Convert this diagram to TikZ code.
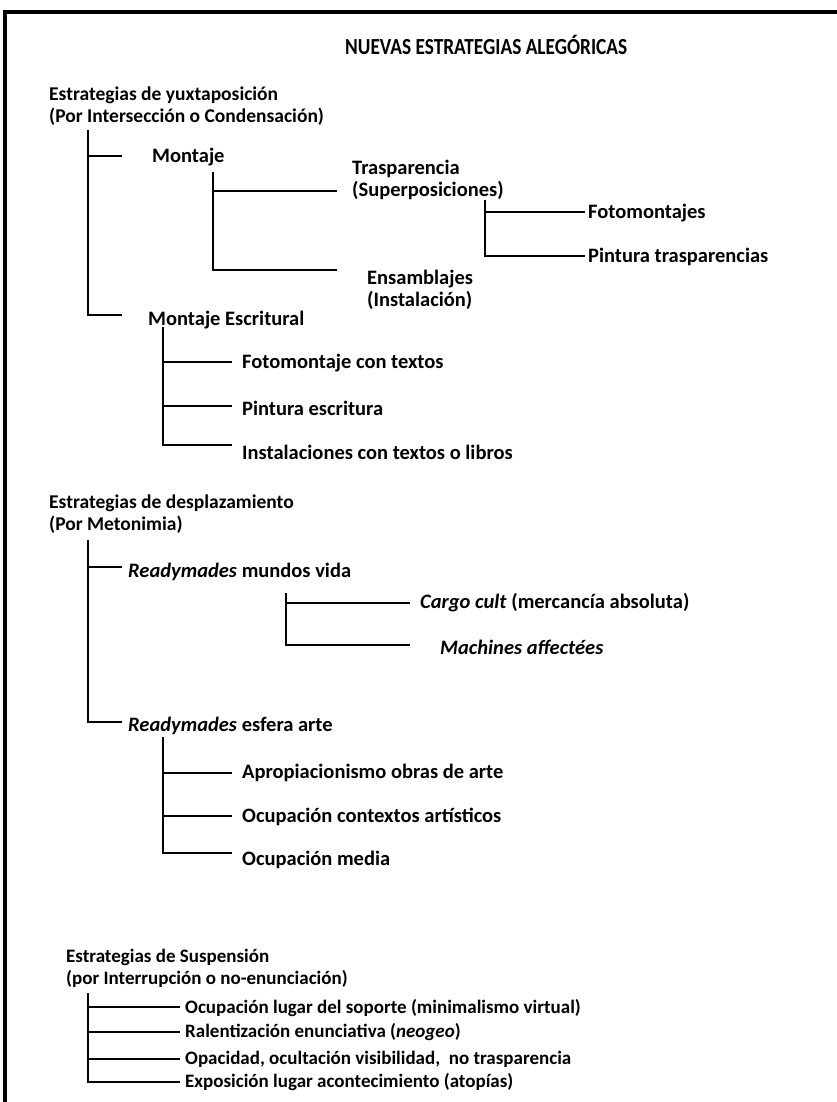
\documentclass[tikz,border=0pt]{standalone}
\usepackage{fontspec}
\setmainfont{Carlito}
\begin{document}
\begin{tikzpicture}[x=1pt,y=-1pt,
  lbl/.style={anchor=west,inner sep=0pt,font=\fontsize{20.5}{22}\selectfont\bfseries,align=left},
  hdr/.style={anchor=west,inner sep=0pt,font=\fontsize{19.5}{22}\selectfont\bfseries,align=left},
  low/.style={anchor=west,inner sep=0pt,font=\fontsize{19}{22}\selectfont\bfseries,align=left},
  ttl/.style={anchor=west,inner sep=0pt,font=\fontsize{23}{26}\selectfont\bfseries},
  tree/.style={line width=1.8pt},
  frame/.style={line width=4pt}]
\useasboundingbox (0,0) rectangle (836,1102);
% frame
\coordinate (fb) at (5,1104);
\coordinate (fc) at (5,12);
\coordinate (fr) at (838,12);
\draw[frame] (fb) -- (fc) -- (fr);
% title
\node[ttl] (title) at (345,45) {\scalebox{0.84}[1]{NUEVAS ESTRATEGIAS ALEG\'ORICAS}};
% group 1
\node[hdr] (g1) at (49,106.5) {Estrategias de yuxtaposici\'on\\(Por Intersecci\'on o Condensaci\'on)};
\node[lbl] (mont) at (152,157) {Montaje};
\node[lbl] (trasp) at (352,179.5) {Trasparencia\\(Superposiciones)};
\node[lbl] (foto) at (588,213) {Fotomontajes};
\node[lbl] (pintt) at (588,257) {Pintura trasparencias};
\node[lbl] (ens) at (367,290) {Ensamblajes\\(Instalaci\'on)};
\node[lbl] (mesc) at (148,320) {Montaje Escritural};
\node[lbl] (fct) at (242,363) {Fotomontaje con textos};
\node[lbl] (pesc) at (242,408) {Pintura escritura};
\node[lbl] (inst) at (242,452) {Instalaciones con textos o libros};
% group 2
\node[hdr] (g2) at (49,514) {Estrategias de desplazamiento\\(Por Metonimia)};
\node[lbl] (rmv) at (128,572) {\textit{Readymades} mundos vida};
\node[lbl] (cargo) at (420,603) {\textit{Cargo cult} (mercanc\'ia absoluta)};
\node[lbl] (mach) at (440,647) {\textit{Machines affect\'ees}};
\node[lbl] (rea) at (128,726) {\textit{Readymades} esfera arte};
\node[lbl] (apro) at (242,773) {Apropiacionismo obras de arte};
\node[lbl] (ocont) at (242,817) {Ocupaci\'on contextos art\'isticos};
\node[lbl] (omed) at (242,860) {Ocupaci\'on media};
% group 3
\node[low] (g3) at (66,968) {Estrategias de Suspensi\'on\\(por Interrupci\'on o no-enunciaci\'on)};
\node[low] (s1) at (185,1008) {Ocupaci\'on lugar del soporte (minimalismo virtual)};
\node[low] (s2) at (185,1032) {Ralentizaci\'on enunciativa (\textit{neogeo})};
\node[low] (s3) at (185,1059) {Opacidad, ocultaci\'on visibilidad,\ \ no trasparencia};
\node[low] (s4) at (185,1082) {Exposici\'on lugar acontecimiento (atop\'ias)};
% tree coordinates
\coordinate (t1) at (88,130);
\coordinate (b1a) at (122,156);
\coordinate (b1b) at (122,315);
\coordinate (t2) at (213,172);
\coordinate (b2a) at (337,191);
\coordinate (b2b) at (337,270);
\coordinate (t3) at (485,200);
\coordinate (b3a) at (585,212);
\coordinate (b3b) at (585,256);
\coordinate (t4) at (163,327);
\coordinate (b4a) at (232,362);
\coordinate (b4b) at (232,406);
\coordinate (b4c) at (232,445);
\coordinate (t5) at (88,540);
\coordinate (b5a) at (122,567);
\coordinate (b5b) at (122,722);
\coordinate (t6) at (286,593);
\coordinate (b6a) at (410,603);
\coordinate (b6b) at (410,645);
\coordinate (t7) at (163,737);
\coordinate (b7a) at (232,773);
\coordinate (b7b) at (232,816);
\coordinate (b7c) at (232,853);
\coordinate (t8) at (88,993);
\coordinate (b8a) at (180,1007);
\coordinate (b8b) at (180,1032);
\coordinate (b8c) at (180,1059);
\coordinate (b8d) at (180,1082);
% trees
\draw[tree] (t1) |- (b1b); \draw[tree] (t1 |- b1a) -- (b1a);
\draw[tree] (t2) |- (b2b); \draw[tree] (t2 |- b2a) -- (b2a);
\draw[tree] (t3) |- (b3b); \draw[tree] (t3 |- b3a) -- (b3a);
\draw[tree] (t4) |- (b4c); \draw[tree] (t4 |- b4a) -- (b4a); \draw[tree] (t4 |- b4b) -- (b4b);
\draw[tree] (t5) |- (b5b); \draw[tree] (t5 |- b5a) -- (b5a);
\draw[tree] (t6) |- (b6b); \draw[tree] (t6 |- b6a) -- (b6a);
\draw[tree] (t7) |- (b7c); \draw[tree] (t7 |- b7a) -- (b7a); \draw[tree] (t7 |- b7b) -- (b7b);
\draw[tree] (t8) |- (b8d); \draw[tree] (t8 |- b8a) -- (b8a); \draw[tree] (t8 |- b8b) -- (b8b); \draw[tree] (t8 |- b8c) -- (b8c);
\end{tikzpicture}
\end{document}
